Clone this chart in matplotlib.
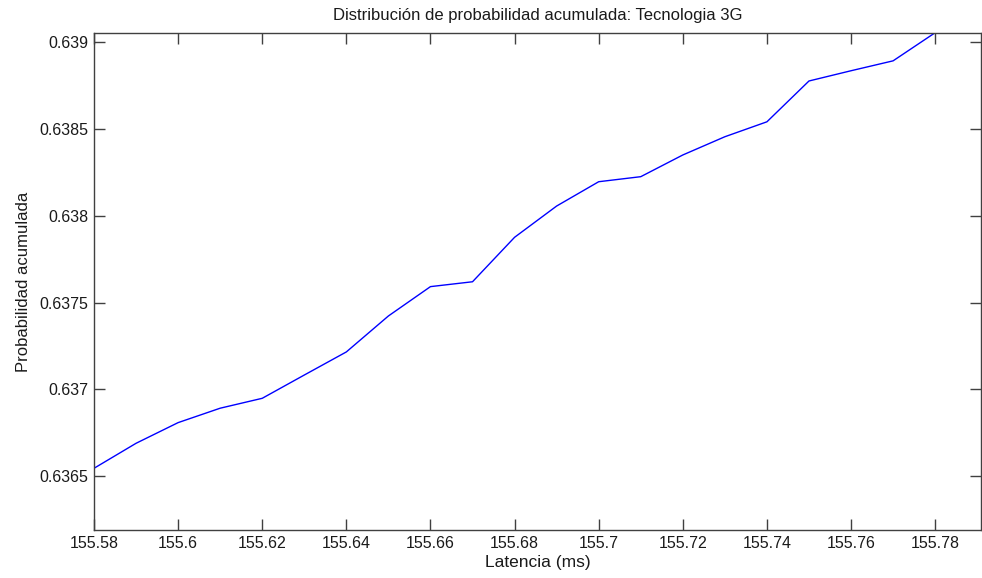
import matplotlib
matplotlib.use("Agg")
import matplotlib.pyplot as plt

# Latencia (ms) vs probabilidad acumulada
latencia = [155.58, 155.59, 155.60, 155.61, 155.62, 155.63, 155.64, 155.65,
            155.66, 155.67, 155.68, 155.69, 155.70, 155.71, 155.72, 155.73,
            155.74, 155.75, 155.76, 155.77, 155.78]
prob_acum = [0.636546, 0.636690, 0.636809, 0.636892, 0.636949, 0.637083,
             0.637216, 0.637423, 0.637592, 0.637620, 0.637876, 0.638056,
             0.638196, 0.638225, 0.638350, 0.638455, 0.638541, 0.638776,
             0.638835, 0.638892, 0.639054]
x_ticks = [155.58, 155.60, 155.62, 155.64, 155.66, 155.68, 155.70,
           155.72, 155.74, 155.76, 155.78]
x_tick_labels = ["155.58", "155.6", "155.62", "155.64", "155.66", "155.68",
                 "155.7", "155.72", "155.74", "155.76", "155.78"]
y_ticks = [0.6365, 0.637, 0.6375, 0.638, 0.6385, 0.639]
y_tick_labels = ["0.6365", "0.637", "0.6375", "0.638", "0.6385", "0.639"]

plt.rcParams["font.family"] = ["Liberation Sans", "DejaVu Sans"]
plt.rcParams["font.size"] = 11.5

W, H = 982, 578
fig = plt.figure(figsize=(W / 100, H / 100), dpi=100)
ax = fig.add_axes([94 / W, 1 - 530.3 / H, (981 - 94) / W, (530.3 - 32.7) / H])

ax.plot(latencia, prob_acum, color="#0000ff", linewidth=1.0)

ax.set_xlim(155.58, 155.7909)
ax.set_ylim(0.636189, 0.639054)
ax.set_xticks(x_ticks)
ax.set_xticklabels(x_tick_labels)
ax.set_yticks(y_ticks)
ax.set_yticklabels(y_tick_labels)

edge = "#404040"
for s in ax.spines.values():
    s.set_color(edge)
    s.set_linewidth(1.0)
ax.tick_params(direction="in", length=8, width=1.0, color=edge,
               top=True, right=True, labelcolor="#1a1a1a", pad=4)

ax.set_title("Distribución de probabilidad acumulada: Tecnologia 3G",
             fontsize=12, color="#1a1a1a", pad=9)
ax.set_xlabel("Latencia (ms)", fontsize=12.5, color="#1a1a1a", labelpad=3)
ax.set_ylabel("Probabilidad acumulada", fontsize=12, color="#1a1a1a", labelpad=6)

fig.savefig("out.png", dpi=100)
